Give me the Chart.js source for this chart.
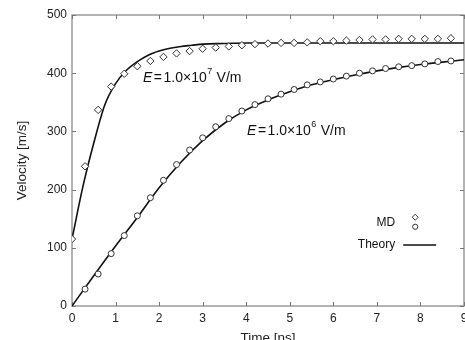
<!DOCTYPE html>
<html>
<head>
<meta charset="utf-8">
<script src="https://cdn.jsdelivr.net/npm/chart.js@4/dist/chart.umd.min.js"></script>
<style>
html,body{margin:0;padding:0;background:#fff;overflow:hidden;}
#wrap{width:480px;height:348px;}
</style>
</head>
<body>
<div id="wrap"><canvas id="c" width="480" height="348"></canvas></div>
<script>
// ---- data ----
const mdHighTime = [0,0.3,0.6,0.9,1.2,1.5,1.8,2.1,2.4,2.7,3.0,3.3,3.6,3.9,4.2,4.5,4.8,5.1,5.4,5.7,6.0,6.3,6.6,6.9,7.2,7.5,7.8,8.1,8.4,8.7];
const mdHigh = [115,240,337,377,399,412,421,428,434,438,442,444,446,448,450,451,452,452,453,455,455,456,457,458,458,459,459,459,459,460];
const mdLowTime = [0.3,0.6,0.9,1.2,1.5,1.8,2.1,2.4,2.7,3.0,3.3,3.6,3.9,4.2,4.5,4.8,5.1,5.4,5.7,6.0,6.3,6.6,6.9,7.2,7.5,7.8,8.1,8.4,8.7];
const mdLow = [29,55,90,121,155,186,216,243,268,289,308,322,335,346,356,364,372,380,385,390,395,400,404,408,411,413,416,420,421];
const theoryHighTime = [0,0.25,0.5,0.75,1,1.25,1.5,1.75,2,2.25,2.5,2.75,3,3.5,4,5,6,7,8,9];
const theoryHigh = [115,205,280,345,382,405,420,431,438,443,446,448,450,451,452,452,452,452,452,452];
const theoryLowTime = [0,0.5,1,1.5,2,2.5,3,3.5,4,4.5,5,5.5,6,6.5,7,7.5,8,8.5,9];
const theoryLow = [0,52,103,152,203,247,284,314,337,354,368,380,389,397,404,410,415,419,423];
const xTicks = [0,1,2,3,4,5,6,7,8,9];
const yTicks = [0,100,200,300,400,500];
const labelHigh = {t:1.63, v:392, exp:'7'};
const labelLow = {t:4.02, v:301, exp:'6'};

const pts = (xs, ys) => xs.map((x,i)=>({x:x, y:ys[i]}));
const FONT = '"Liberation Sans", Arial, sans-serif';

const framePlugin = {
  id:'frame',
  beforeDatasetsDraw(chart){
    const {ctx, chartArea:a, scales:{x,y}} = chart;
    ctx.save();
    ctx.strokeStyle = '#9a9a9a';
    ctx.lineWidth = 1.5;
    ctx.strokeRect(a.left, a.top, a.right-a.left, a.bottom-a.top);
    ctx.lineWidth = 1;
    ctx.strokeStyle = '#777';
    const L = 4;
    ctx.beginPath();
    xTicks.forEach(t=>{
      const px = Math.round(x.getPixelForValue(t))+0.5;
      ctx.moveTo(px, a.bottom); ctx.lineTo(px, a.bottom-L);
      ctx.moveTo(px, a.top); ctx.lineTo(px, a.top+L);
    });
    yTicks.forEach(v=>{
      const py = Math.round(y.getPixelForValue(v))+0.5;
      ctx.moveTo(a.left, py); ctx.lineTo(a.left+L, py);
      ctx.moveTo(a.right, py); ctx.lineTo(a.right-L, py);
    });
    ctx.stroke();
    ctx.restore();
  },
  afterDatasetsDraw(chart){
    const {ctx, scales:{x,y}} = chart;
    ctx.save();
    ctx.fillStyle = '#111';
    ctx.textBaseline = 'middle';
    const drawLabel = (lab)=>{
      let px = x.getPixelForValue(lab.t), py = y.getPixelForValue(lab.v);
      ctx.textAlign = 'left';
      ctx.font = 'italic 14px ' + FONT;
      ctx.fillText('E', px, py); px += ctx.measureText('E').width + 1.5;
      ctx.font = '14px ' + FONT;
      ctx.fillText('=', px, py); px += ctx.measureText('=').width + 1.5;
      const s1 = '1.0\u00d710';
      ctx.fillText(s1, px, py); px += ctx.measureText(s1).width;
      ctx.font = '9px ' + FONT;
      ctx.fillText(lab.exp, px+0.5, py-6); px += ctx.measureText(lab.exp).width + 1;
      ctx.font = '14px ' + FONT;
      ctx.fillText(' V/m', px, py);
    };
    drawLabel(labelHigh);
    drawLabel(labelLow);
    // legend
    const lx = x.getPixelForValue(7.42);
    const my = y.getPixelForValue(143);
    const ty = y.getPixelForValue(105);
    ctx.font = '12px ' + FONT;
    ctx.textAlign = 'right';
    ctx.fillText('MD', lx, my);
    ctx.fillText('Theory', lx, ty);
    ctx.strokeStyle = '#333'; ctx.fillStyle = '#fff'; ctx.lineWidth = 1;
    const sx = lx + 20;
    ctx.beginPath();
    ctx.moveTo(sx, my-8.5); ctx.lineTo(sx+3, my-5.5); ctx.lineTo(sx, my-2.5); ctx.lineTo(sx-3, my-5.5); ctx.closePath();
    ctx.fill(); ctx.stroke();
    ctx.beginPath(); ctx.arc(sx, my+4, 2.6, 0, Math.PI*2); ctx.fill(); ctx.stroke();
    ctx.strokeStyle = '#111'; ctx.lineWidth = 1.5;
    ctx.beginPath(); ctx.moveTo(lx+8, ty); ctx.lineTo(lx+41, ty); ctx.stroke();
    ctx.restore();
  }
};

new Chart(document.getElementById('c'), {
  type:'scatter',
  data:{
    datasets:[
      {label:'MD high', data:pts(mdHighTime, mdHigh), pointStyle:'rectRot', pointRadius:3.7, pointBorderWidth:1,
       borderColor:'#333', backgroundColor:'#fff', showLine:false, order:0},
      {label:'MD low', data:pts(mdLowTime, mdLow), pointStyle:'circle', pointRadius:3, pointBorderWidth:1,
       borderColor:'#333', backgroundColor:'#fff', showLine:false, order:0},
      {label:'Theory high', data:pts(theoryHighTime, theoryHigh), showLine:true, pointRadius:0,
       borderColor:'#111', borderWidth:1.6, cubicInterpolationMode:'monotone', order:1},
      {label:'Theory low', data:pts(theoryLowTime, theoryLow), showLine:true, pointRadius:0,
       borderColor:'#111', borderWidth:1.6, cubicInterpolationMode:'monotone', order:1}
    ]
  },
  options:{
    responsive:false,
    animation:false,
    events:[],
    layout:{padding:{top:15, right:16, left:14, bottom:0}},
    plugins:{legend:{display:false}, tooltip:{enabled:false}},
    scales:{
      x:{type:'linear', min:0, max:9,
         afterBuildTicks:(s)=>{ s.ticks = xTicks.map(v=>({value:v})); },
         afterFit:(s)=>{ s.height = 42; },
         grid:{display:false, drawTicks:false}, border:{display:false},
         ticks:{color:'#222', padding:5, font:{family:FONT, size:12}, maxRotation:0},
         title:{display:true, text:'Time [ns]', color:'#222', padding:{top:0,bottom:2}, font:{family:FONT, size:13.5}}},
      y:{type:'linear', min:0, max:500,
         afterBuildTicks:(s)=>{ s.ticks = yTicks.map(v=>({value:v})); },
         afterFit:(s)=>{ s.width = 58; },
         grid:{display:false, drawTicks:false}, border:{display:false},
         ticks:{color:'#222', padding:5, font:{family:FONT, size:12}},
         title:{display:true, text:'Velocity [m/s]', color:'#222', padding:0, font:{family:FONT, size:13.5}}}
    }
  },
  plugins:[framePlugin]
});
</script>
</body>
</html>
